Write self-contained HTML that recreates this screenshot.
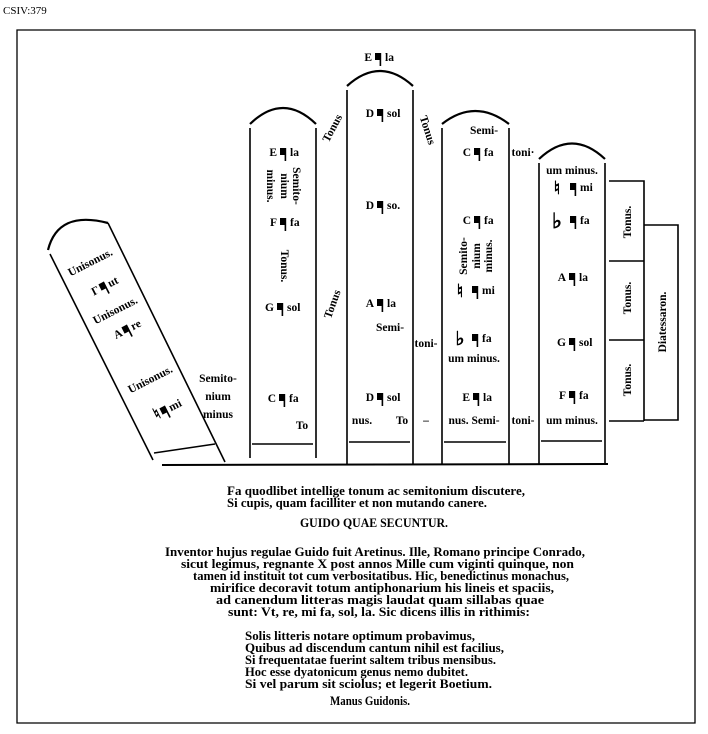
<!DOCTYPE html>
<html><head><meta charset="utf-8"><style>
html,body{margin:0;padding:0;background:#fff;}
svg{display:block;}
text{font-family:"Liberation Serif",serif;font-weight:bold;font-size:11.5px;fill:#000;}
.t text{font-size:12.5px;}
</style></head><body>
<svg width="708" height="734" viewBox="0 0 708 734" xmlns="http://www.w3.org/2000/svg">
<defs>
<g id="n"><rect x="0" y="-8" width="6" height="7" fill="#000"/><rect x="4.6" y="-8" width="1.6" height="13" fill="#000"/></g>
</defs>
<text x="3" y="14" style="font-weight:normal;font-size:11px">CSIV:379</text>
<g stroke="#000" fill="none" stroke-width="1.6">
<path d="M17,30 H695 V723 H17 Z" stroke-width="1.3"/>
<line x1="162" y1="465" x2="608" y2="464" stroke-width="2"/>
<path d="M50,254 L153,460 M108,223 L225,462 M154,453 L215,444"/>
<path d="M48,250 Q58,210 108,223" stroke-width="2.2"/>
<path d="M250,128 V458 M316,128 V458 M252,444 H313"/>
<path d="M250,124 Q283,92 316,124" stroke-width="2.2"/>
<path d="M347,90 V464 M413,90 V464 M349,442 H410"/>
<path d="M347,86 Q380,56 413,86" stroke-width="2.2"/>
<path d="M442,128 V464 M509,128 V464 M444,442 H506"/>
<path d="M442,124 Q475,98 509,124" stroke-width="2.2"/>
<path d="M539,163 V464 M605,163 V464 M541,441 H602"/>
<path d="M539,159 Q572,128 605,159" stroke-width="2.2"/>
<path d="M609,181 H644 V421 M609,261 H644 M609,340 H644 M609,421 H644"/>
<path d="M644,225 H678 V420 H644"/>
</g>

<g transform="translate(90,262) rotate(-27)"><text text-anchor="middle" y="4">Unisonus.</text></g>
<g transform="translate(102,287) rotate(-27)"><text x="-4" y="4" text-anchor="end">Γ</text><use href="#n" x="-2" y="4"/><text x="7" y="4">ut</text></g>
<g transform="translate(115,310) rotate(-27)"><text text-anchor="middle" y="4">Unisonus.</text></g>
<g transform="translate(125,330) rotate(-27)"><text x="-4" y="4" text-anchor="end">A</text><use href="#n" x="-2" y="4"/><text x="7" y="4">re</text></g>
<g transform="translate(150,379) rotate(-27)"><text text-anchor="middle" y="4">Unisonus.</text></g>
<g transform="translate(163,411) rotate(-27)"><text x="-4" y="5" text-anchor="end" style="font-size:16px">♮</text><use href="#n" x="-2" y="4"/><text x="7" y="4">mi</text></g>
<text x="218" y="382" text-anchor="middle">Semito-</text>
<text x="218" y="400" text-anchor="middle">nium</text>
<text x="218" y="418" text-anchor="middle">minus</text>

<text x="277" y="156" text-anchor="end">E</text><use href="#n" x="280" y="156"/><text x="290" y="156">la</text>
<g transform="translate(297,186) rotate(90)"><text text-anchor="middle" y="4">Semito-</text></g>
<g transform="translate(285,186) rotate(90)"><text text-anchor="middle" y="4">nium</text></g>
<g transform="translate(271,186) rotate(90)"><text text-anchor="middle" y="4">minus.</text></g>
<text x="277" y="226" text-anchor="end">F</text><use href="#n" x="280" y="226"/><text x="290" y="226">fa</text>
<g transform="translate(285,266) rotate(90)"><text text-anchor="middle" y="4">Tonus.</text></g>
<text x="274" y="311" text-anchor="end">G</text><use href="#n" x="277" y="311"/><text x="287" y="311">sol</text>
<text x="276" y="402" text-anchor="end">C</text><use href="#n" x="279" y="402"/><text x="289" y="402">fa</text>
<text x="302" y="429" text-anchor="middle">To</text>
<g transform="translate(332,128) rotate(-62)"><text text-anchor="middle" y="4">Tonus</text></g>
<g transform="translate(332,304) rotate(-70)"><text text-anchor="middle" y="4">Tonus</text></g>

<text x="372" y="61" text-anchor="end">E</text><use href="#n" x="375" y="61"/><text x="385" y="61">la</text>
<text x="374" y="117" text-anchor="end">D</text><use href="#n" x="377" y="117"/><text x="387" y="117">sol</text>
<text x="374" y="209" text-anchor="end">D</text><use href="#n" x="377" y="209"/><text x="387" y="209">so.</text>
<text x="374" y="307" text-anchor="end">A</text><use href="#n" x="377" y="307"/><text x="387" y="307">la</text>
<text x="390" y="331" text-anchor="middle">Semi-</text>
<text x="374" y="401" text-anchor="end">D</text><use href="#n" x="377" y="401"/><text x="387" y="401">sol</text>
<text x="362" y="424" text-anchor="middle">nus.</text>
<text x="402" y="424" text-anchor="middle">To</text>
<g transform="translate(428,130) rotate(72)"><text text-anchor="middle" y="4">Tonus</text></g>
<text x="426" y="347" text-anchor="middle">toni-</text>
<text x="426" y="424" text-anchor="middle">–</text>

<text x="484" y="134" text-anchor="middle">Semi-</text>
<text x="471" y="156" text-anchor="end">C</text><use href="#n" x="474" y="156"/><text x="484" y="156">fa</text>
<text x="471" y="224" text-anchor="end">C</text><use href="#n" x="474" y="224"/><text x="484" y="224">fa</text>
<g transform="translate(463,256) rotate(-90)"><text text-anchor="middle" y="4">Semito-</text></g>
<g transform="translate(476,256) rotate(-90)"><text text-anchor="middle" y="4">nium</text></g>
<g transform="translate(488,256) rotate(-90)"><text text-anchor="middle" y="4">minus.</text></g>
<text x="460" y="297" text-anchor="middle" style="font-size:18px">♮</text><use href="#n" x="472" y="294"/><text x="482" y="294">mi</text>
<text x="460" y="345" text-anchor="middle" style="font-size:19px">♭</text><use href="#n" x="472" y="342"/><text x="482" y="342">fa</text>
<text x="474" y="362" text-anchor="middle">um minus.</text>
<text x="470" y="401" text-anchor="end">E</text><use href="#n" x="473" y="401"/><text x="483" y="401">la</text>
<text x="474" y="424" text-anchor="middle">nus. Semi-</text>
<text x="523" y="156" text-anchor="middle">toni·</text>
<text x="523" y="424" text-anchor="middle">toni-</text>

<text x="572" y="174" text-anchor="middle">um minus.</text>
<text x="557" y="194" text-anchor="middle" style="font-size:18px">♮</text><use href="#n" x="570" y="191"/><text x="580" y="191">mi</text>
<text x="557" y="228" text-anchor="middle" style="font-size:21px">♭</text><use href="#n" x="570" y="224"/><text x="580" y="224">fa</text>
<text x="566" y="281" text-anchor="end">A</text><use href="#n" x="569" y="281"/><text x="579" y="281">la</text>
<text x="566" y="346" text-anchor="end">G</text><use href="#n" x="569" y="346"/><text x="579" y="346">sol</text>
<text x="566" y="399" text-anchor="end">F</text><use href="#n" x="569" y="399"/><text x="579" y="399">fa</text>
<text x="572" y="424" text-anchor="middle">um minus.</text>

<g transform="translate(627,222) rotate(-90)"><text text-anchor="middle" y="4">Tonus.</text></g>
<g transform="translate(627,298) rotate(-90)"><text text-anchor="middle" y="4">Tonus.</text></g>
<g transform="translate(627,380) rotate(-90)"><text text-anchor="middle" y="4">Tonus.</text></g>
<g transform="translate(662,322) rotate(-90)"><text text-anchor="middle" y="4">Diatessaron.</text></g>

<g class="t">
<text x="227" y="495" textLength="298" lengthAdjust="spacingAndGlyphs">Fa quodlibet intellige tonum ac semitonium discutere,</text>
<text x="227" y="507" textLength="260" lengthAdjust="spacingAndGlyphs">Si cupis, quam facilliter et non mutando canere.</text>
<text x="300" y="527" textLength="148" lengthAdjust="spacingAndGlyphs">GUIDO QUAE SECUNTUR.</text>
<text x="165" y="556" textLength="420" lengthAdjust="spacingAndGlyphs">Inventor hujus regulae Guido fuit Aretinus. Ille, Romano principe Conrado,</text>
<text x="181" y="568" textLength="393" lengthAdjust="spacingAndGlyphs">sicut legimus, regnante X post annos Mille cum viginti quinque, non</text>
<text x="193" y="580" textLength="376" lengthAdjust="spacingAndGlyphs">tamen id instituit tot cum verbositatibus. Hic, benedictinus monachus,</text>
<text x="210" y="592" textLength="344" lengthAdjust="spacingAndGlyphs">mirifice decoravit totum antiphonarium his lineis et spaciis,</text>
<text x="216" y="604" textLength="328" lengthAdjust="spacingAndGlyphs">ad canendum litteras magis laudat quam sillabas quae</text>
<text x="228" y="616" textLength="302" lengthAdjust="spacingAndGlyphs">sunt: Vt, re, mi fa, sol, la. Sic dicens illis in rithimis:</text>
<text x="245" y="640" textLength="230" lengthAdjust="spacingAndGlyphs">Solis litteris notare optimum probavimus,</text>
<text x="245" y="652" textLength="259" lengthAdjust="spacingAndGlyphs">Quibus ad discendum cantum nihil est facilius,</text>
<text x="245" y="664" textLength="251" lengthAdjust="spacingAndGlyphs">Si frequentatae fuerint saltem tribus mensibus.</text>
<text x="245" y="676" textLength="223" lengthAdjust="spacingAndGlyphs">Hoc esse dyatonicum genus nemo dubitet.</text>
<text x="245" y="688" textLength="247" lengthAdjust="spacingAndGlyphs">Si vel parum sit sciolus; et legerit Boetium.</text>
<text x="330" y="705" textLength="80" lengthAdjust="spacingAndGlyphs">Manus Guidonis.</text>
</g>
</svg>
</body></html>
